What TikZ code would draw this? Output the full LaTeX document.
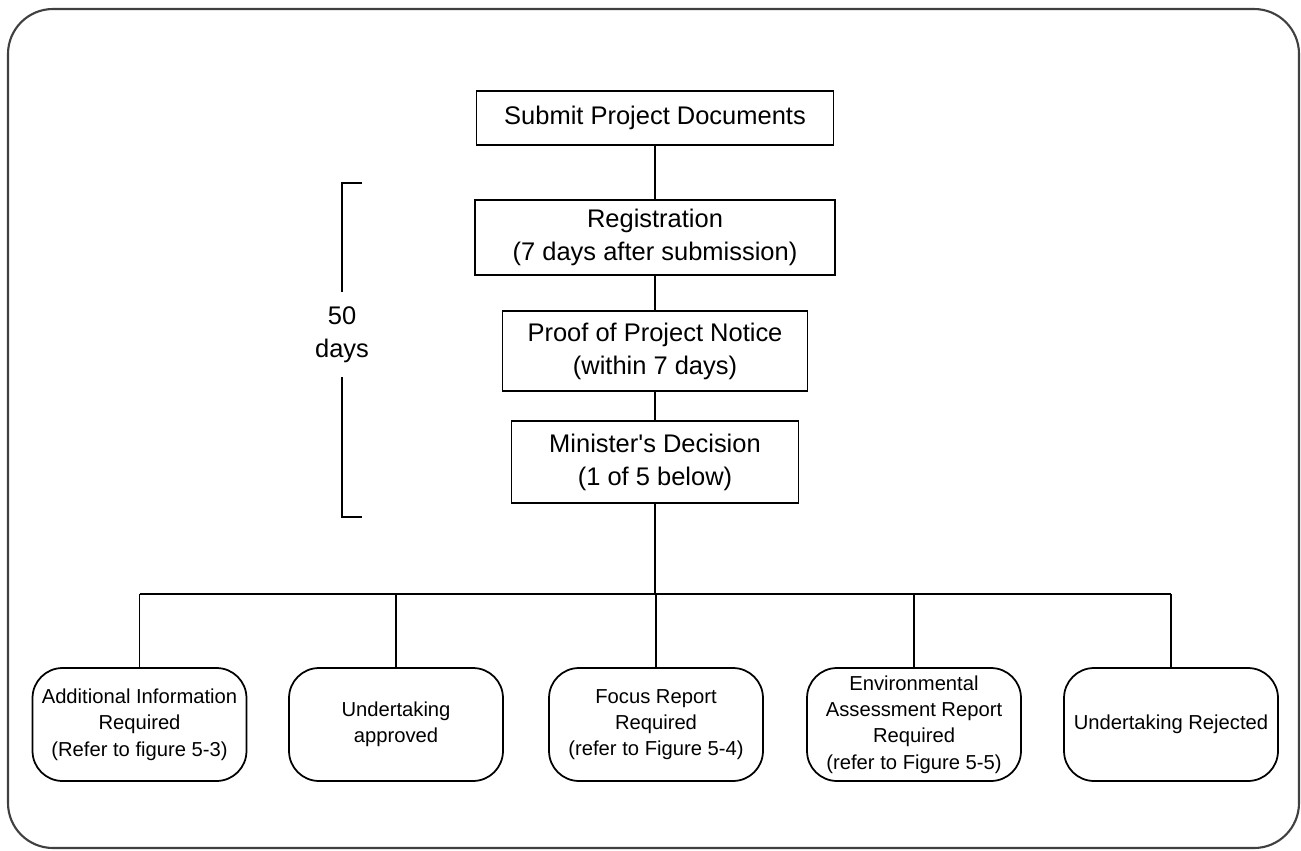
\documentclass[tikz,border=0pt]{standalone}
\usepackage{fontspec}
\setmainfont{Liberation Sans}

\begin{document}
\begin{tikzpicture}[x=0.02cm, y=-0.02cm,
		stepbox/.style={draw, line width=1pt, align=center, inner sep=2pt, font=\fontsize{14.5}{18.8}\selectfont},
		outcome/.style={draw, line width=1pt, rounded corners=0.6cm, align=center, minimum width=4.28cm, minimum height=2.26cm, inner sep=1pt, font=\fontsize{11.5}{15}\selectfont},
		link/.style={line width=1pt}]
		\useasboundingbox (0,0) rectangle (1301,851);
		\draw[line width=1.2pt, black!75, rounded corners=0.9cm] (8,9) rectangle (1299,848);
		% main chain
		\node[stepbox, minimum width=7.14cm, minimum height=1.08cm] (submit) at (655,118) {Submit Project Documents};
		\node[stepbox, minimum width=7.2cm, minimum height=1.5cm] (reg) at (655,237.5) {Registration\\(7 days after submission)};
		\node[stepbox, minimum width=6.1cm, minimum height=1.6cm] (proof) at (655,351) {Proof of Project Notice\\(within 7 days)};
		\node[stepbox, minimum width=5.74cm, minimum height=1.64cm] (mdec) at (655,462) {Minister\textquotesingle s Decision\\(1 of 5 below)};
		\draw[link] (submit) -- (reg);
		\draw[link] (reg) -- (proof);
		\draw[link] (proof) -- (mdec);
		% the five outcomes
		\node[outcome] (addinfo) at (139.5,724.5) {Additional Information\\Required\\(Refer to figure 5-3)};
		\node[outcome] (approved) at (396,724.5) {Undertaking\\approved};
		\node[outcome] (focus) at (656,724.5) {Focus Report\\Required\\(refer to Figure 5-4)};
		\node[outcome] (envrep) at (914,724.5) {Environmental\\Assessment Report\\Required\\(refer to Figure 5-5)};
		\node[outcome] (rejected) at (1171,724.5) {Undertaking Rejected};
		\coordinate (bus) at (655,594);
		\draw[link] (mdec) -- (mdec |- bus);
		\draw[link] (addinfo |- bus) -- (rejected |- bus);
		\foreach \o in {addinfo, approved, focus, envrep, rejected}
			\draw[link] (\o |- bus) -- (\o);
		% 50 days bracket
		\node[inner sep=0pt, minimum height=1.7cm, align=center, font=\fontsize{14.5}{18.8}\selectfont] (span) at (342,334.5) {50\\days};
		\coordinate (btop) at (362,183);
		\coordinate (bbot) at (362,517);
		\draw[link] (btop) -- (btop -| span) -- (span.north);
		\draw[link] (span.south) -- (bbot -| span) -- (bbot);
	\end{tikzpicture}
\end{document}
